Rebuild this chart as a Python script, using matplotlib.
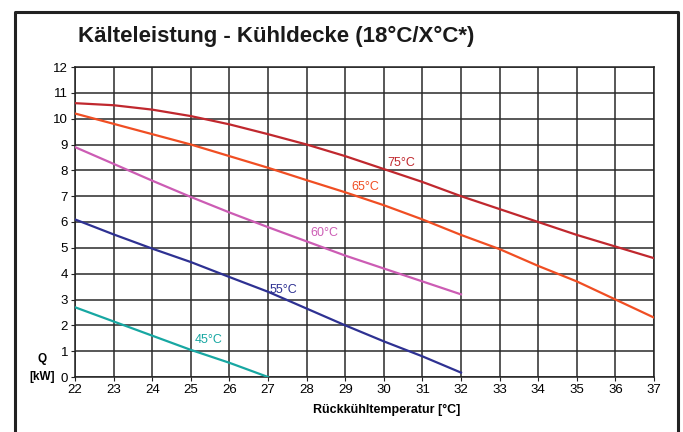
import numpy as np
import matplotlib
matplotlib.use("Agg")
import matplotlib.pyplot as plt
from matplotlib.lines import Line2D

plt.rcParams["font.family"] = ["Liberation Sans", "DejaVu Sans"]

# -------------------------- DATA ----------------------------
x_full = [22, 23, 24, 25, 26, 27, 28, 29, 30, 31, 32, 33, 34, 35, 36, 37]
q_75 = [10.6, 10.52, 10.35, 10.1, 9.78, 9.4, 9.0, 8.55, 8.05, 7.55, 7.0, 6.5, 6.0, 5.5, 5.05, 4.6]
q_65 = [10.2, 9.8, 9.4, 9.0, 8.55, 8.1, 7.62, 7.15, 6.65, 6.1, 5.5, 4.95, 4.3, 3.7, 3.0, 2.3]
x_60 = [22, 23, 24, 25, 26, 27, 28, 29, 30, 31, 32]
q_60 = [8.9, 8.25, 7.6, 6.97, 6.37, 5.8, 5.25, 4.7, 4.2, 3.7, 3.2]
x_55 = [22, 23, 24, 25, 26, 27, 28, 29, 30, 31, 32]
q_55 = [6.1, 5.52, 4.97, 4.45, 3.87, 3.3, 2.65, 2.0, 1.38, 0.8, 0.17]
x_45 = [22, 23, 24, 25, 26, 27]
q_45 = [2.7, 2.15, 1.6, 1.05, 0.55, 0.0]

series = [
    (x_full, q_75, "#c0282e", "75°C", (30.1, 8.28)),
    (x_full, q_65, "#f04e23", "65°C", (29.15, 7.35)),
    (x_60, q_60, "#cc5cb4", "60°C", (28.1, 5.57)),
    (x_55, q_55, "#2e3192", "55°C", (27.05, 3.37)),
    (x_45, q_45, "#17a7a2", "45°C", (25.1, 1.43)),
]

# --------------------- FIGURE ----------------------
fig = plt.figure(figsize=(6.83, 4.32), dpi=100)
ax = fig.add_axes([75 / 683, 55 / 432, 579 / 683, 310 / 432])

ax.set_xlim(22, 37)
ax.set_ylim(0, 12)
ax.set_xticks(range(22, 38))
ax.set_yticks(range(0, 13))
ax.grid(True, color="#2a2a2a", linewidth=1.1)
ax.set_axisbelow(True)
for s in ax.spines.values():
    s.set_color("#222222")
    s.set_linewidth(1.1)
ax.tick_params(labelsize=9.5, length=3, width=0.8, color="#222222", pad=2)

for xs, qs, col, lab, pos in series:
    ax.plot(xs, qs, color=col, linewidth=1.6, zorder=3)
    ax.text(pos[0], pos[1], lab, color=col, fontsize=9, ha="left", va="center", zorder=4)

fig.text(78 / 683, 1 - 36 / 432, "Kälteleistung - Kühldecke (18°C/X°C*)",
         fontsize=16, fontweight="bold", ha="left", va="center", color="#1a1a1a")
fig.text(387 / 683, 1 - 410 / 432, "Rückkühltemperatur [°C]",
         fontsize=9, fontweight="bold", ha="center", va="center")
fig.text(42 / 683, 1 - 359 / 432, "Q", fontsize=8.5, fontweight="bold", ha="center", va="center")
fig.text(42 / 683, 1 - 377 / 432, "[kW]", fontsize=8.5, fontweight="bold", ha="center", va="center")

# outer frame (left, top, right)
frame_x = [15 / 683, 15 / 683, 678 / 683, 678 / 683]
frame_y = [0, 1 - 12 / 432, 1 - 12 / 432, 0]
fig.add_artist(Line2D(frame_x, frame_y, transform=fig.transFigure, color="#222222", linewidth=2.2))

fig.savefig("out.png", dpi=100)
